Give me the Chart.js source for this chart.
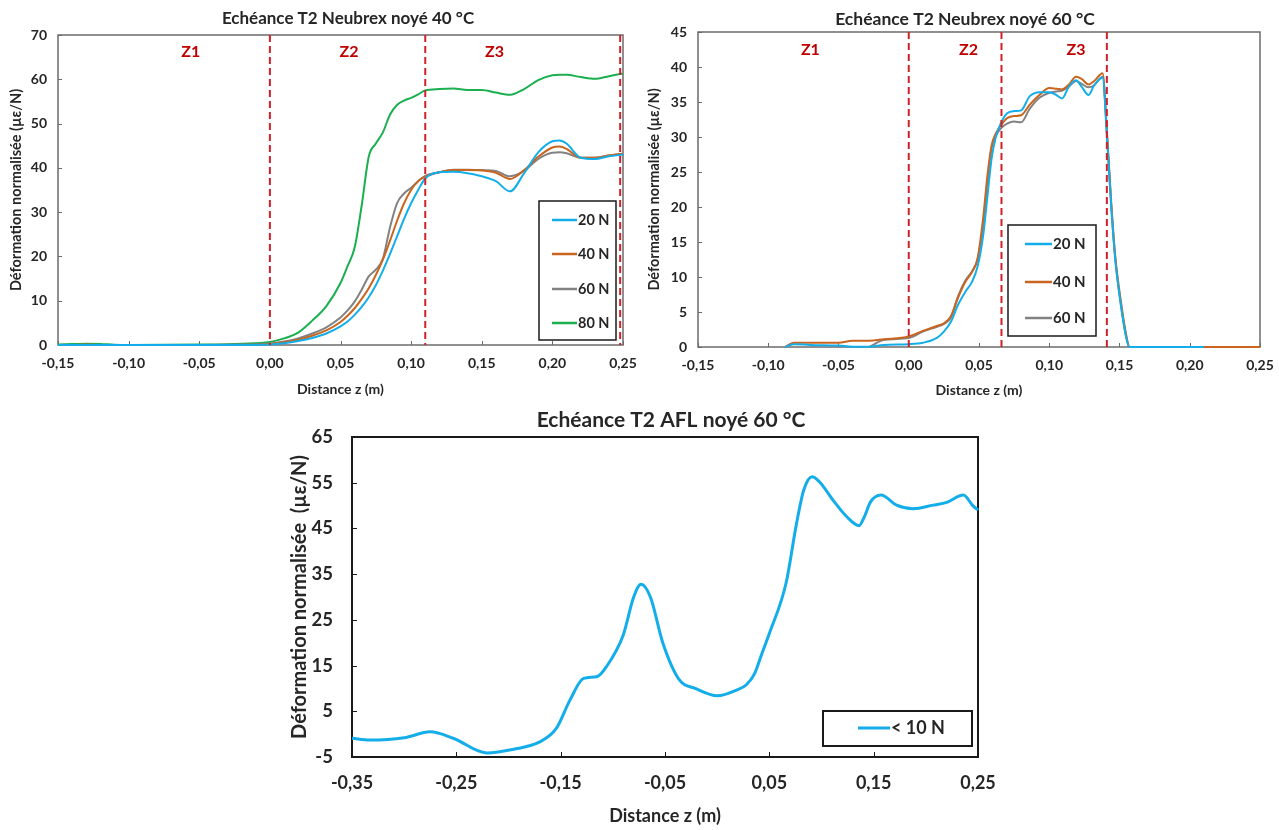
<!DOCTYPE html>
<html><head><meta charset="utf-8">
<script src="https://cdn.jsdelivr.net/npm/chart.js@4.4.1/dist/chart.umd.min.js"></script>
<style>
html,body{margin:0;padding:0;background:#fff;}
#wrap{position:relative;width:1279px;height:830px;overflow:hidden;background:#fff;}
canvas{position:absolute;}
</style></head><body>
<div id="wrap">
<canvas id="c1" width="640" height="400" style="left:0px;top:0px"></canvas>
<canvas id="c2" width="639" height="400" style="left:640px;top:0px"></canvas>
<canvas id="c3" width="720" height="430" style="left:280px;top:400px"></canvas>
</div>
<script>
// ---------- Chart 1 : Neubrex 40 °C ----------
const x1 = [-0.15,-0.14,-0.13,-0.12,-0.11,-0.10,-0.05,-0.02,0,0.01,0.02,0.03,0.04,0.05,0.055,0.06,0.065,0.07,0.075,0.08,0.085,0.09,0.095,0.10,0.105,0.11,0.12,0.13,0.14,0.15,0.16,0.17,0.18,0.19,0.20,0.205,0.21,0.22,0.23,0.24,0.25];
const c1_20N = [0,0,0,0,0,0,0,0,0.1,0.4,0.9,1.6,2.6,4.2,5.3,6.8,8.6,10.8,13.5,16.8,20.5,24.5,28.5,32,35,37.6,39,39.1,38.8,38.1,37,34.7,38.8,43.5,46,46.2,45.5,42.3,42,42.6,43];
const c1_40N = [0,0,0.1,0,0,0,0,0,0.2,0.6,1.2,2.1,3.3,5.2,6.6,8.3,10.4,12.8,15.8,19.3,23.5,28,32,35,37,38,39,39.5,39.5,39.4,38.9,37.5,39.5,42.5,44.6,44.8,44.3,42.3,42.3,42.8,43.2];
const c1_60N = [0,0,0,0,0,0,0,0.1,0.3,0.8,1.5,2.6,4,6.2,7.8,9.8,12.5,15.5,17,19.5,26.5,32,34.2,35.5,37,38.2,39,39.6,39.6,39.5,39.3,38.1,39.3,42,43.4,43.5,43.3,42.3,42.3,42.8,43.2];
const c1_80N = [0.1,0.2,0.3,0.25,0.05,0,0.1,0.3,0.7,1.5,2.8,5.5,8.8,14,17.8,22,31.5,42.5,45.5,48,52,54.2,55.2,55.8,56.6,57.5,57.8,57.9,57.6,57.6,57,56.5,57.8,59.8,60.9,61,61,60.5,60.1,60.7,61.3];
const c1_xTicks = [-0.15,-0.10,-0.05,0,0.05,0.10,0.15,0.20,0.25];
const c1_yTicks = [0,10,20,30,40,50,60,70];
const c1_zoneLines = [0, 0.11, 0.248];
const c1_zoneLabels = ['Z1','Z2','Z3'];
const c1_zoneLabelX = [-0.056, 0.056, 0.159];
const c1_zoneLabelY = 66.3;

// ---------- Chart 2 : Neubrex 60 °C ----------
const x2 = [-0.088,-0.082,-0.07,-0.05,-0.04,-0.028,-0.018,0,0.01,0.02,0.025,0.03,0.035,0.04,0.045,0.049,0.053,0.056,0.059,0.062,0.066,0.07,0.075,0.08,0.086,0.093,0.1,0.105,0.109,0.114,0.119,0.123,0.128,0.132,0.138,0.141,0.144,0.147,0.151,0.155,0.157,0.18,0.21,0.25];
const c2_20N = [0,0.4,0.3,0.2,0.05,0.05,0.3,0.4,0.6,1.3,2.2,3.6,6,7.8,9.3,11.5,16,21.5,27,30,32.2,33.4,33.7,33.8,35.8,36.4,36.4,36,35.5,37.2,38.1,37.2,36,37.4,38.5,30.5,20.5,12.5,6,1.2,0,0,0,null];
const c2_40N = [0,0.6,0.6,0.6,0.9,0.9,1.1,1.5,2.3,3.0,3.4,4.4,7.0,9.2,10.7,12.7,18.5,24.5,28.8,30.5,31.8,32.7,33,33.1,34.6,36,37,36.9,36.8,37.5,38.6,38.3,37.5,38,39.1,31,21,13,6.5,1.5,0,0,0,0];
const c2_60N = [null,null,null,null,null,0,1.0,1.3,2.2,2.9,3.3,4.2,7.2,9.4,10.8,12.5,17.5,23.5,28.5,30.2,31.3,31.9,32.2,32.1,34,35.6,36.3,36.5,36.6,37.2,38,37.6,37.1,37.4,38.6,30.5,20.5,12.5,6,1.2,0,0,0,0];
const c2_xTicks = [-0.15,-0.10,-0.05,0,0.05,0.10,0.15,0.20,0.25];
const c2_yTicks = [0,5,10,15,20,25,30,35,40,45];
const c2_zoneLines = [0, 0.066, 0.141];
const c2_zoneLabels = ['Z1','Z2','Z3'];
const c2_zoneLabelX = [-0.07, 0.0425, 0.119];
const c2_zoneLabelY = 42.5;

// ---------- Chart 3 : AFL 60 °C ----------
const x3 = [-0.35,-0.333,-0.30,-0.275,-0.253,-0.221,-0.195,-0.17,-0.154,-0.141,-0.128,-0.115,-0.106,-0.09,-0.08,-0.073,-0.064,-0.052,-0.036,-0.021,0,0.019,0.028,0.036,0.043,0.05,0.066,0.076,0.083,0.091,0.098,0.111,0.124,0.136,0.141,0.147,0.157,0.172,0.188,0.207,0.22,0.236,0.245,0.25];
const c3_lt10N = [-0.9,-1.3,-0.8,0.5,-0.9,-4.1,-3.3,-1.7,1.3,7.5,12.2,12.6,14.8,21.7,30,32.8,30,19.9,11.8,10,8.4,9.7,10.8,13.3,17.7,22,33,46,53.4,56.3,55.2,51.2,47.6,45.6,47.5,50.8,52.3,50.1,49.3,50.1,50.7,52.3,50,49];
const c3_xTicks = [-0.35,-0.25,-0.15,-0.05,0.05,0.15,0.25];
const c3_yTicks = [-5,5,15,25,35,45,55,65];

// ---------- helpers ----------
const FONT = "Lato,'Open Sans',sans-serif";
const C_BLUE = '#13aeea', C_ORANGE = '#c9651f', C_GRAY = '#828282', C_GREEN = '#1aaf4f';
const C_RED = '#d1202a', C_ZTXT = '#c00000', TXT = '#262626';
const fmtX = v => (Math.round(v*100)/100).toFixed(2).replace('.', ',');
const pts = (xs, ys) => xs.map((x, i) => ({x, y: ys[i]}));

const decor = {
  id: 'decor',
  beforeDatasetsDraw(chart, args, o) {
    const {ctx, chartArea: a, scales: {x, y}} = chart;
    ctx.save();
    ctx.strokeStyle = o.frameColor; ctx.lineWidth = 1;
    x.ticks.forEach(t => { const px = Math.round(x.getPixelForValue(t.value)) + 0.5;
      ctx.beginPath(); ctx.moveTo(px, a.bottom); ctx.lineTo(px, a.bottom - o.tickLen); ctx.stroke(); });
    y.ticks.forEach(t => { const py = Math.round(y.getPixelForValue(t.value)) + 0.5;
      ctx.beginPath(); ctx.moveTo(a.left, py); ctx.lineTo(a.left + o.tickLen, py); ctx.stroke(); });
    ctx.lineWidth = o.frameWidth;
    ctx.strokeRect(a.left, a.top, a.width, a.height);
    ctx.restore();
  },
  afterDatasetsDraw(chart, args, o) {
    const {ctx, chartArea: a, scales: {x, y}} = chart;
    ctx.save();
    if (o.zoneLines) {
      ctx.strokeStyle = C_RED; ctx.lineWidth = 2; ctx.setLineDash([7, 4]);
      o.zoneLines.forEach(v => { const px = x.getPixelForValue(v);
        ctx.beginPath(); ctx.moveTo(px, a.top); ctx.lineTo(px, a.bottom); ctx.stroke(); });
      ctx.setLineDash([]);
      ctx.fillStyle = C_ZTXT; ctx.font = 'bold 16px ' + FONT;
      ctx.textAlign = 'center'; ctx.textBaseline = 'middle';
      o.zoneLabels.forEach((t, i) => ctx.fillText(t, x.getPixelForValue(o.zoneLabelX[i]), y.getPixelForValue(o.zoneLabelY)));
    }
    const L = o.legend;
    if (L) {
      ctx.fillStyle = '#fff'; ctx.fillRect(L.x, L.y, L.w, L.h);
      ctx.strokeStyle = '#1a1a1a'; ctx.lineWidth = L.border; ctx.strokeRect(L.x, L.y, L.w, L.h);
      ctx.font = 'bold ' + L.size + 'px ' + FONT; ctx.textAlign = 'left'; ctx.textBaseline = 'middle';
      chart.data.datasets.forEach((d, i) => {
        const ey = L.rows[i];
        ctx.strokeStyle = d.borderColor; ctx.lineWidth = L.lw;
        ctx.beginPath(); ctx.moveTo(L.l1, ey); ctx.lineTo(L.l2, ey); ctx.stroke();
        ctx.fillStyle = TXT; ctx.fillText(d.label, L.tx, ey);
      });
    }
    const T = o.title;
    if (T) {
      ctx.fillStyle = TXT; ctx.font = 'bold ' + T.size + 'px ' + FONT;
      ctx.textAlign = 'center'; ctx.textBaseline = 'middle';
      ctx.fillText(T.text, T.x, T.y);
    }
    ctx.restore();
  }
};

function ds(label, xs, ys, color, w) {
  return {label, data: pts(xs, ys), borderColor: color, backgroundColor: color, borderWidth: w,
    pointRadius: 0, cubicInterpolationMode: 'monotone', fill: false, spanGaps: false, clip: 4};
}

function build(id, s) {
  return new Chart(document.getElementById(id), {
    type: 'line',
    data: {datasets: s.datasets},
    plugins: [decor],
    options: {
      responsive: false, animation: false, events: [],
      layout: {padding: {left: 0, right: s.padRight, top: s.padTop, bottom: 0}},
      plugins: {
        legend: {display: false}, tooltip: {enabled: false}, title: {display: false},
        decor: s.decor
      },
      scales: {
        x: {type: 'linear', min: s.xMin, max: s.xMax,
          afterBuildTicks: sc => { sc.ticks = s.xTicks.map(v => ({value: v})); },
          afterFit: sc => { sc.height = s.xH; sc.paddingLeft = 0; sc.paddingRight = 0; },
          grid: {display: false, drawTicks: false}, border: {display: false},
          ticks: {font: {family: FONT, size: s.tickSize, weight: 'bold'}, color: TXT, padding: s.xTickPad,
            maxRotation: 0, autoSkip: false, callback: v => fmtX(v)},
          title: {display: true, text: 'Distance z (m)', color: TXT,
            font: {family: FONT, size: s.xTitleSize, weight: 'bold'}, padding: {top: 0, bottom: s.xTitlePad}}},
        y: {type: 'linear', min: s.yMin, max: s.yMax,
          afterBuildTicks: sc => { sc.ticks = s.yTicks.map(v => ({value: v})); },
          afterFit: sc => { sc.width = s.yW; sc.paddingTop = 0; sc.paddingBottom = 0; },
          grid: {display: false, drawTicks: false}, border: {display: false},
          ticks: {font: {family: FONT, size: s.yTickSize || s.tickSize, weight: 'bold'}, color: TXT, padding: s.yTickPad,
            autoSkip: false, callback: v => String(v)},
          title: {display: true, text: s.yTitle, color: TXT,
            font: {family: FONT, size: s.yTitleSize, weight: 'bold'}, padding: {top: s.yTitlePad, bottom: 0}}}
      }
    }
  });
}

build('c1', {
  padTop: 35, padRight: 17, xMin: -0.15, xMax: 0.25, yMin: 0, yMax: 70, xTicks: c1_xTicks, yTicks: c1_yTicks,
  xH: 55, yW: 58, tickSize: 14, xTickPad: 10, yTickPad: 11, xTitleSize: 14, xTitlePad: 2.6,
  yTitle: 'Déformation normalisée (µε/N)', yTitleSize: 14.5, yTitlePad: 7.6,
  datasets: [ds('20 N', x1, c1_20N, C_BLUE, 2), ds('40 N', x1, c1_40N, C_ORANGE, 2),
             ds('60 N', x1, c1_60N, C_GRAY, 2), ds('80 N', x1, c1_80N, C_GREEN, 2)],
  decor: {frameColor: '#6b6b6b', frameWidth: 1.5, tickLen: 4,
    title: {text: 'Echéance T2 Neubrex noyé 40 °C', size: 17, x: 348, y: 19},
    zoneLines: c1_zoneLines, zoneLabels: c1_zoneLabels, zoneLabelX: c1_zoneLabelX, zoneLabelY: c1_zoneLabelY,
    legend: {x: 539, y: 201, w: 77, h: 139, border: 1.5, size: 14.5, lw: 2.5, l1: 552, l2: 577, tx: 578, rows: [220, 254, 289, 323]}}
});

build('c2', {
  padTop: 32, padRight: 19, xMin: -0.15, xMax: 0.25, yMin: 0, yMax: 45, xTicks: c2_xTicks, yTicks: c2_yTicks,
  xH: 53, yW: 58, tickSize: 14, xTickPad: 10, yTickPad: 11, xTitleSize: 14, xTitlePad: 1.6,
  yTitle: 'Déformation normalisée (µε/N)', yTitleSize: 14.5, yTitlePad: 5.6,
  datasets: [ds('20 N', x2, c2_20N, C_BLUE, 2), ds('40 N', x2, c2_40N, C_ORANGE, 2), ds('60 N', x2, c2_60N, C_GRAY, 2)],
  decor: {frameColor: '#6b6b6b', frameWidth: 1.5, tickLen: 4,
    title: {text: 'Echéance T2 Neubrex noyé 60 °C', size: 17.5, x: 325, y: 19},
    zoneLines: c2_zoneLines, zoneLabels: c2_zoneLabels, zoneLabelX: c2_zoneLabelX, zoneLabelY: c2_zoneLabelY,
    legend: {x: 368, y: 225, w: 88, h: 111, border: 1.5, size: 15, lw: 2.5, l1: 385, l2: 412, tx: 413, rows: [244, 282, 318]}}
});

build('c3', {
  padTop: 37, padRight: 22, xMin: -0.35, xMax: 0.25, yMin: -5, yMax: 65, xTicks: c3_xTicks, yTicks: c3_yTicks,
  xH: 73, yW: 72, tickSize: 18, yTickSize: 18.5, xTickPad: 15, yTickPad: 19, xTitleSize: 18, xTitlePad: 3.5,
  yTitle: 'Déformation normalisée  (µε/N)', yTitleSize: 20, yTitlePad: 8,
  datasets: [ds('< 10 N', x3, c3_lt10N, C_BLUE, 3)],
  decor: {frameColor: '#1a1a1a', frameWidth: 2, tickLen: 5,
    title: {text: 'Echéance T2 AFL noyé 60 °C', size: 21, x: 391, y: 20},
    legend: {x: 543, y: 311, w: 149, h: 35, border: 2, size: 18, lw: 3, l1: 578, l2: 610, tx: 611, rows: [328]}}
});
</script>
</body></html>
